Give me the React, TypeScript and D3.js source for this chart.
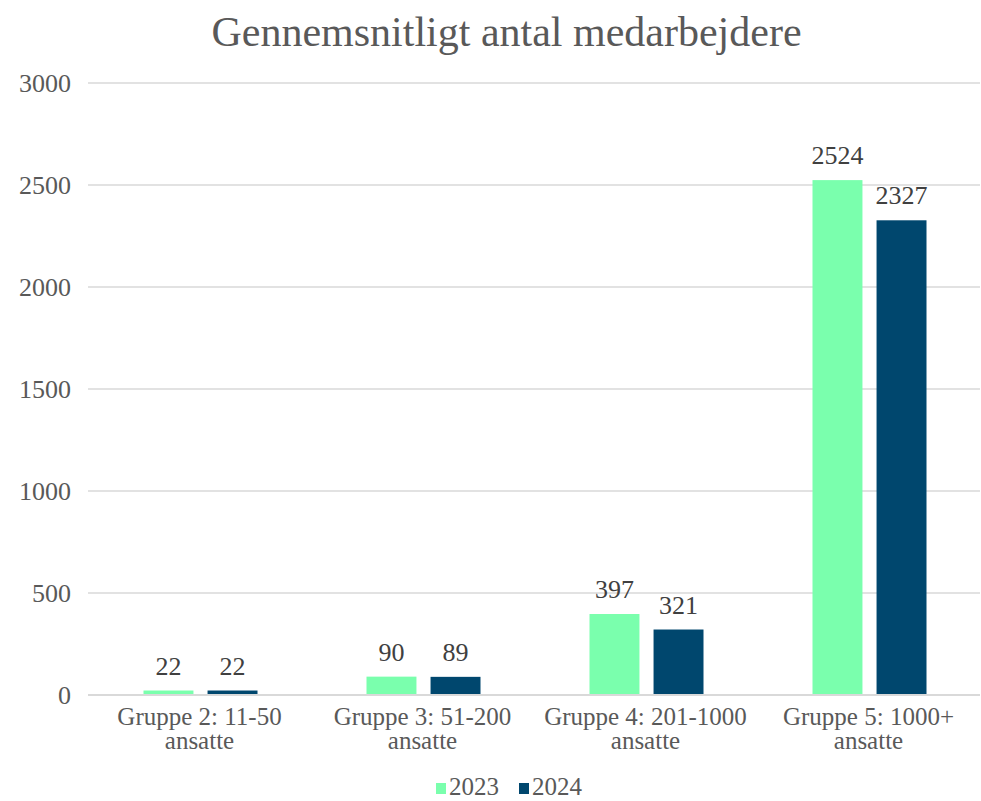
import React, { useEffect, useRef } from "react";
import * as d3 from "d3";

const categories = [
  ["Gruppe 2: 11-50", "ansatte"],
  ["Gruppe 3: 51-200", "ansatte"],
  ["Gruppe 4: 201-1000", "ansatte"],
  ["Gruppe 5: 1000+", "ansatte"],
];
const series = ["2023", "2024"];
const values2023 = [22, 90, 397, 2524];
const values2024 = [22, 89, 321, 2327];
const yTicks = [0, 500, 1000, 1500, 2000, 2500, 3000];
const colors = ["#7affad", "#00476e"];
const title = "Gennemsnitligt antal medarbejdere";

const W = 981;
const H = 801;
const FONT = "'Liberation Serif', Georgia, serif";
const TEXT = "#595959";

export default function App() {
  const ref = useRef<SVGSVGElement>(null);

  useEffect(() => {
    const svg = d3.select(ref.current);
    svg.selectAll("*").remove();

    const left = 88;
    const right = 980;
    const top = 83;
    const bottom = 695;

    const x = d3
      .scaleBand<number>()
      .domain(d3.range(categories.length))
      .range([left, right]);
    const x1 = d3
      .scaleBand<number>()
      .domain([0, 1])
      .range([x.bandwidth() / 2 - 56, x.bandwidth() / 2 + 58])
      .paddingInner(0.22);
    const y = d3.scaleLinear().domain([0, 3000]).range([bottom, top]);

    // gridlines
    svg
      .append("g")
      .selectAll("line")
      .data(yTicks.filter((d) => d > 0))
      .join("line")
      .attr("x1", left)
      .attr("x2", right)
      .attr("y1", (d) => y(d))
      .attr("y2", (d) => y(d))
      .attr("stroke", "#d9d9d9")
      .attr("stroke-width", 1.5);

    // y tick labels
    svg
      .append("g")
      .selectAll("text")
      .data(yTicks)
      .join("text")
      .attr("x", 71)
      .attr("y", (d) => y(d))
      .attr("dy", "0.35em")
      .attr("text-anchor", "end")
      .attr("font-family", FONT)
      .attr("font-size", 26)
      .attr("fill", TEXT)
      .text((d) => d);

    const data = [values2023, values2024];

    const groups = svg
      .append("g")
      .selectAll("g")
      .data(categories.map((_, i) => i))
      .join("g")
      .attr("transform", (i) => `translate(${x(i)},0)`);

    groups
      .selectAll("rect")
      .data((i) => data.map((vals, s) => ({ s, v: vals[i] })))
      .join("rect")
      .attr("x", (d) => x1(d.s)!)
      .attr("width", x1.bandwidth())
      .attr("y", (d) => y(d.v))
      .attr("height", (d) => bottom - y(d.v))
      .attr("fill", (d) => colors[d.s]);

    groups
      .selectAll("text.val")
      .data((i) => data.map((vals, s) => ({ s, v: vals[i] })))
      .join("text")
      .attr("class", "val")
      .attr("x", (d) => x1(d.s)! + x1.bandwidth() / 2)
      .attr("y", (d) => y(d.v) - 16)
      .attr("text-anchor", "middle")
      .attr("font-family", FONT)
      .attr("font-size", 26)
      .attr("fill", "#404040")
      .text((d) => d.v);

    // baseline
    svg
      .append("line")
      .attr("x1", left)
      .attr("x2", right)
      .attr("y1", bottom)
      .attr("y2", bottom)
      .attr("stroke", "#d9d9d9")
      .attr("stroke-width", 2);

    // category labels
    groups
      .append("text")
      .attr("text-anchor", "middle")
      .attr("font-family", FONT)
      .attr("font-size", 25)
      .attr("fill", TEXT)
      .selectAll("tspan")
      .data((i) => categories[i])
      .join("tspan")
      .attr("x", x.bandwidth() / 2)
      .attr("y", (_, k) => 725 + k * 24)
      .text((d) => d);

    // title
    svg
      .append("text")
      .attr("x", W / 2 + 16)
      .attr("y", 46)
      .attr("text-anchor", "middle")
      .attr("font-family", FONT)
      .attr("font-size", 42)
      .attr("fill", TEXT)
      .text(title);

    // legend
    const legend = svg.append("g");
    const lx = [436, 519];
    series.forEach((s, i) => {
      legend
        .append("rect")
        .attr("x", lx[i])
        .attr("y", 783)
        .attr("width", 10)
        .attr("height", 11)
        .attr("fill", colors[i]);
      legend
        .append("text")
        .attr("x", lx[i] + 13)
        .attr("y", 795)
        .attr("font-family", FONT)
        .attr("font-size", 25)
        .attr("fill", TEXT)
        .text(s);
    });
  }, []);

  return (
    <svg
      ref={ref}
      width={W}
      height={H}
      style={{ position: "absolute", left: 0, top: 0, background: "#fff" }}
    />
  );
}
